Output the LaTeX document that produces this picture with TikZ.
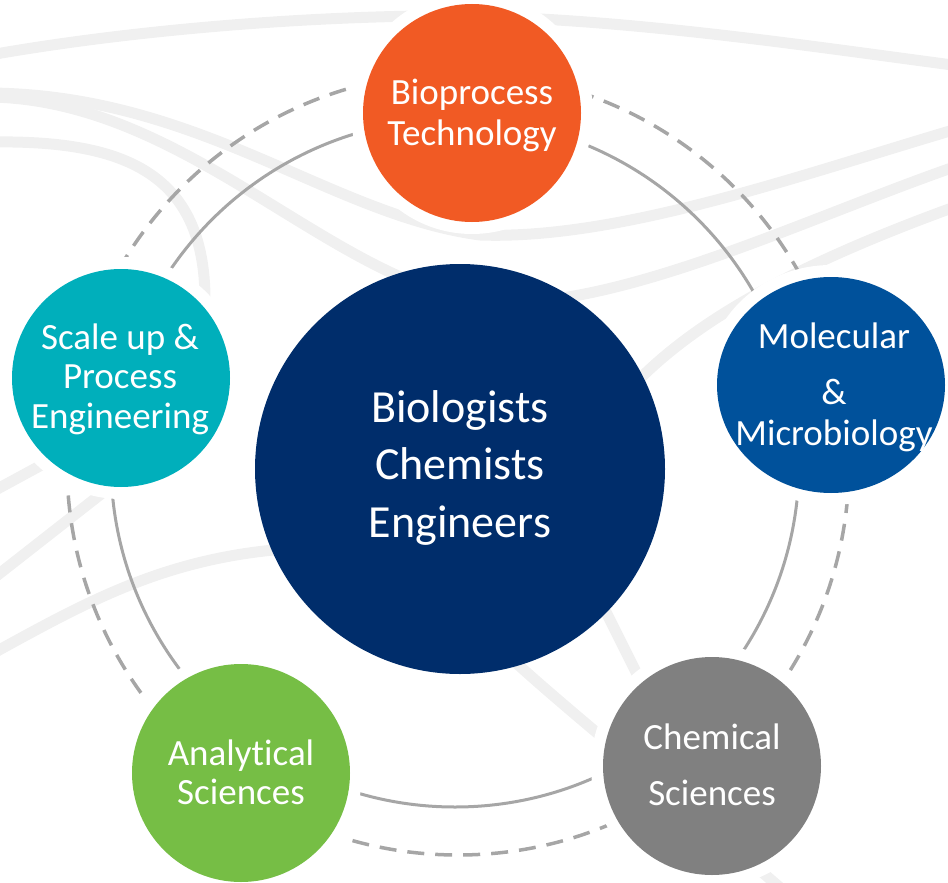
\documentclass[tikz,border=0pt]{standalone}
\usepackage{fontspec}
\setmainfont[Ligatures=NoCommon]{Carlito}
\usetikzlibrary{shapes.geometric}
\definecolor{cOrange}{HTML}{F15A24}
\definecolor{cTeal}{HTML}{00AFBB}
\definecolor{cNavy}{HTML}{002D6B}
\definecolor{cBlue}{HTML}{00519B}
\definecolor{cGreen}{HTML}{76BE45}
\definecolor{cGray}{HTML}{808080}
\definecolor{ringGray}{HTML}{A6A6A6}
\definecolor{bandGray}{HTML}{F0F0F0}
\begin{document}
\begin{tikzpicture}[x=1pt,y=-1pt,
  band/.style={draw=bandGray, line width=11pt},
  solidring/.style={draw=ringGray, line width=3pt},
  dashring/.style={draw=ringGray, line width=3.5pt, dash pattern=on 17pt off 11pt},
  topic/.style={circle, minimum size=218pt, inner sep=0pt, draw=none,
    preaction={draw=white, line width=24pt}},
  hub/.style={circle, minimum size=410pt, inner sep=0pt, draw=none, fill=cNavy},
  lbl/.style={text=white, inner sep=0pt, anchor=base},
]
\useasboundingbox (0,0) rectangle (948,883);
\begin{scope}
\clip (0,0) rectangle (948,883);
% background bands
\draw[band] (-10,55) .. controls (120,32) and (280,18) .. (420,16) .. controls (600,14) and (800,45) .. (960,66);
\draw[band] (-10,93) .. controls (200,95) and (330,215) .. (480,235) .. controls (620,240) and (800,175) .. (960,128);
\draw[band] (-10,97) .. controls (180,100) and (320,270) .. (470,300) .. controls (600,320) and (800,220) .. (960,165);
\draw[band] (-10,142) .. controls (120,140) and (205,170) .. (205,300);
\draw[band] (-10,493) -- (60,455);
\draw[band] (-10,581) -- (110,487);
\draw[band] (-10,655) .. controls (90,600) and (170,555) .. (300,548);
\draw[band] (620,400) .. controls (680,330) and (780,270) .. (960,205);
\draw[band] (600,600) -- (650,700);
\draw[band] (500,648) .. controls (560,705) and (680,800) .. (800,905);
% rings
\coordinate (rc1) at (455,463);
\coordinate (rc2) at (458,464);
\draw[solidring] (rc1) circle (344pt);
\draw[dashring] (rc2) circle (391pt);
\end{scope}
% circles
\node[topic, fill=cOrange] (bio) at (472,113) {};
\node[topic, fill=cTeal] (scale) at (121,378) {};
\node[ellipse, minimum width=228pt, minimum height=216pt, inner sep=0pt, draw=none,
  preaction={draw=white, line width=24pt}, fill=cBlue] (mol) at (831,385) {};
\node[topic, fill=cGreen] (ana) at (241,773) {};
\node[topic, fill=cGray] (chem) at (712,766) {};
\node[hub] (hubc) at (460,469) {};
% labels
\node[lbl, font=\fontsize{37}{41}\selectfont] (bioT) at (472,104)
  {\begin{tabular}[t]{@{}c@{}}Bioprocess\\Technology\end{tabular}};
\node[lbl, font=\fontsize{37}{39.5}\selectfont] (scaleT) at (120,349)
  {\begin{tabular}[t]{@{}c@{}}Scale up \&\\Process\\Engineering\end{tabular}};
\node[lbl, font=\fontsize{37}{41}\selectfont] (molT) at (834,348)
  {\begin{tabular}[t]{@{}c@{}}Molecular\\[15pt]\&\\Microbiology\end{tabular}};
\node[lbl, font=\fontsize{37}{39}\selectfont] (anaT) at (241,765)
  {\begin{tabular}[t]{@{}c@{}}Analytical\\Sciences\end{tabular}};
\node[lbl, font=\fontsize{37}{41}\selectfont] (chemT) at (712,749)
  {\begin{tabular}[t]{@{}c@{}}Chemical\\[15pt]Sciences\end{tabular}};
\node[lbl, font=\fontsize{46}{57.5}\selectfont] (hubT) at (460,422)
  {\begin{tabular}[t]{@{}c@{}}Biologists\\Chemists\\Engineers\end{tabular}};
\end{tikzpicture}
\end{document}
